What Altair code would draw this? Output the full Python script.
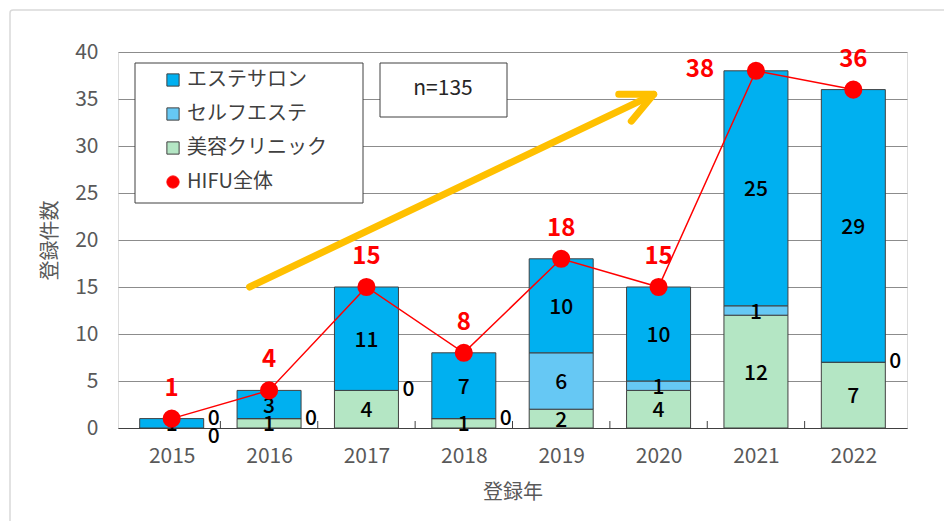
import altair as alt
import pandas as pd

years = [2015, 2016, 2017, 2018, 2019, 2020, 2021, 2022]
salon = [1, 3, 11, 7, 10, 10, 25, 29]
self_este = [0, 0, 0, 0, 6, 1, 1, 0]
clinic = [0, 1, 4, 1, 2, 4, 12, 7]
totals = [1, 4, 15, 8, 18, 15, 38, 36]
series = ["エステサロン", "セルフエステ", "美容クリニック", "HIFU全体"]
colors = ["#00B0F0", "#66C8F4", "#B4E6C4", "#FF0000"]
strokes = ["#404040", "#404040", "#404040", "#FF0000"]
shapes = ["square", "square", "square", "circle"]
arrow_x = [2015.8, 2019.95]
arrow_y = [15, 35.5]
n_label = "n=135"

FONT = "Noto Sans CJK JP"

rows = []
for i, y in enumerate(years):
    rows.append({"year": y, "series": series[2], "value": clinic[i], "order": 0})
    rows.append({"year": y, "series": series[1], "value": self_este[i], "order": 1})
    rows.append({"year": y, "series": series[0], "value": salon[i], "order": 2})
bars_df = pd.DataFrame(rows)
tot_df = pd.DataFrame({"year": years, "total": totals, "series": series[3]})
arrow_df = pd.DataFrame({"x": arrow_x, "y": arrow_y})
bound_df = pd.DataFrame({"b": [y + 0.5 for y in years[:-1]]})
one = pd.DataFrame({"k": [0]})

leg = alt.Legend(title=None, orient="none", legendX=45, legendY=18,
                 labelFontSize=20, labelFont=FONT, labelColor="#404040",
                 symbolSize=150, rowPadding=14, symbolStrokeWidth=1,
                 labelOffset=4)

xs = alt.Scale(domain=[2014.5, 2022.5], nice=False, zero=False)
ys = alt.Scale(domain=[0, 40], nice=False)
col = alt.Color("series:N", scale=alt.Scale(domain=series, range=colors), legend=leg)
stk = alt.Stroke("series:N", scale=alt.Scale(domain=series, range=strokes), legend=leg)
shp = alt.Shape("series:N", scale=alt.Scale(domain=series, range=shapes), legend=leg)

X = alt.X("year:Q", scale=xs,
          axis=alt.Axis(values=years, format="d", labelFontSize=21, labelColor="#595959",
                        labelFont=FONT, ticks=False, grid=False, domainColor="#404040",
                        labelPadding=17, title="登録年", titleFontSize=20,
                        titleFont=FONT, titleFontWeight="normal", titleColor="#595959",
                        titlePadding=16))

outer = alt.Chart(one).mark_rect(fill="transparent", stroke="#d9d9d9", strokeWidth=1.5,
                                 cornerRadius=3).encode(
    x=alt.value(-108), x2=alt.value(900), y=alt.value(-42), y2=alt.value(520))

bars = alt.Chart(bars_df).mark_bar(strokeWidth=1, size=64).encode(
    x=X,
    y=alt.Y("value:Q", stack="zero", scale=ys,
            axis=alt.Axis(values=list(range(0, 41, 5)), labelFontSize=21, labelColor="#595959",
                          labelFont=FONT, ticks=False, domain=False, gridColor="#8c8c8c",
                          labelPadding=20, title="登録件数", titleFontSize=20, titleFont=FONT,
                          titleFontWeight="normal", titleColor="#595959", titlePadding=14)),
    color=col, stroke=stk,
    order=alt.Order("order:Q"),
)

stacked = alt.Chart(bars_df).transform_stack(
    stack="value", groupby=["year"], as_=["y0", "y1"], sort=[alt.SortField("order")]
)

lab_nz = stacked.transform_filter("datum.value > 0").transform_calculate(
    mid="(datum.y0 + datum.y1) / 2").mark_text(
    font=FONT, fontSize=21, fontWeight=500, color="black", baseline="middle", dy=2).encode(
    x=alt.X("year:Q", scale=xs), y=alt.Y("mid:Q", scale=ys), text="value:Q")

lab_z = stacked.transform_filter(
    "datum.value == 0 && datum.series != 'エステサロン'").transform_calculate(
    pos="datum.series == 'セルフエステ' ? max(datum.y0, 1) : datum.y0 - 1").mark_text(
    font=FONT, fontSize=21, fontWeight=500, color="black", baseline="middle", dx=42).encode(
    x=alt.X("year:Q", scale=xs), y=alt.Y("pos:Q", scale=ys), text="value:Q")

ticks = alt.Chart(bound_df).mark_rule(color="#404040", strokeWidth=1).encode(
    x=alt.X("b:Q", scale=xs), y=alt.value(376), y2=alt.value(369))

legbox = alt.Chart(one).mark_rect(fill="white", stroke="#404040", strokeWidth=1).encode(
    x=alt.value(17), x2=alt.value(245), y=alt.value(11), y2=alt.value(151))

nbox = alt.Chart(one).mark_rect(fill="white", stroke="#404040", strokeWidth=1).encode(
    x=alt.value(262), x2=alt.value(389), y=alt.value(11), y2=alt.value(65))
ntext = alt.Chart(one).mark_text(font=FONT, fontSize=21, color="#262626",
                                 baseline="middle").encode(
    x=alt.value(325), y=alt.value(37), text=alt.value(n_label))

arrow_line = alt.Chart(arrow_df).mark_line(color="#FFC000", strokeWidth=7, strokeCap="round").encode(
    x=alt.X("x:Q", scale=xs), y=alt.Y("y:Q", scale=ys))
arrow_head = alt.Chart(arrow_df.tail(1)).mark_point(
    shape="M -0.47 1 L 0 0 L 0.47 1", filled=False, stroke="#FFC000", strokeWidth=7,
    angle=65, size=4000, opacity=1, strokeCap="round", strokeJoin="round").encode(
    x=alt.X("x:Q", scale=xs), y=alt.Y("y:Q", scale=ys))

line = alt.Chart(tot_df).mark_line(strokeWidth=1.5).encode(
    x=alt.X("year:Q", scale=xs), y=alt.Y("total:Q", scale=ys), color=alt.value("#FF0000"))
pts = alt.Chart(tot_df).mark_point(filled=True, size=260, opacity=1).encode(
    x=alt.X("year:Q", scale=xs), y=alt.Y("total:Q", scale=ys),
    color=col, stroke=stk, shape=shp)

tl = alt.Chart(tot_df).transform_filter("datum.year != 2021").mark_text(
    font=FONT, fontSize=24, fontWeight="bold", color="#FF0000", baseline="middle", dy=-30).encode(
    x=alt.X("year:Q", scale=xs), y=alt.Y("total:Q", scale=ys), text="total:Q")
tl21 = alt.Chart(tot_df).transform_filter("datum.year == 2021").mark_text(
    font=FONT, fontSize=24, fontWeight="bold", color="#FF0000", baseline="middle", dx=-56,
    dy=-1).encode(
    x=alt.X("year:Q", scale=xs), y=alt.Y("total:Q", scale=ys), text="total:Q")

chart = alt.layer(
    outer, bars, ticks, lab_nz, lab_z, legbox, nbox, ntext,
    arrow_line, arrow_head, line, pts, tl, tl21
).properties(
    width=789, height=376,
    autosize=alt.AutoSizeParams(type="none"),
    padding={"left": 110, "top": 44, "right": 37, "bottom": 93},
).configure_view(stroke="#7f7f7f", strokeWidth=1).configure(font=FONT)

chart.save("out.html", embed_options={"renderer": "svg", "actions": False})
